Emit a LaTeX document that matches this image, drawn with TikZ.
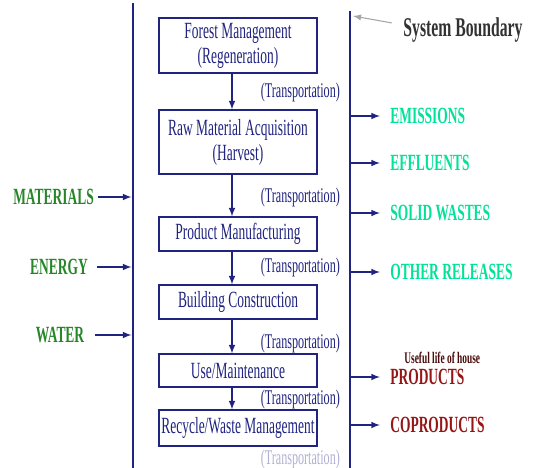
\documentclass[tikz,border=0pt]{standalone}
\usepackage{fontspec}
\setmainfont{Liberation Serif}[FakeStretch=0.58]
\usepackage{tikz}
\usetikzlibrary{arrows}
\usetikzlibrary{positioning}
\definecolor{navy}{RGB}{32, 36, 128}
\definecolor{mint}{RGB}{0, 226, 152}
\definecolor{leaf}{RGB}{38, 134, 40}
\definecolor{maroon}{RGB}{150, 22, 22}
\definecolor{slate}{RGB}{50, 50, 50}

\tikzset{
    stage/.style    = {draw=navy, line width=0.6pt, text=navy, align=center, minimum width=3.16cm,
                       inner xsep=1pt, inner ysep=0pt, font=\fontsize{13.2}{14.2}\selectfont},
    haul/.style     = {text=navy, anchor=east, inner sep=1pt, font=\fontsize{11.9}{13}\selectfont},
    output/.style   = {anchor=west, inner sep=0pt, font=\fontsize{13.2}{14}\selectfont\bfseries},
    input/.style    = {inner sep=0pt, text=leaf, font=\fontsize{13.2}{14}\selectfont\bfseries},
    flow/.style     = {navy, line width=0.7pt, -latex},
}

\begin{document}
\begin{tikzpicture}
            % Frame to ensure alignment:
            \useasboundingbox[fill=white] (0.00, 0.00) rectangle (10.86, -9.36);
            \draw[navy, line width=0.85pt]  (2.66, -0.06) -- (2.66, -9.36);
            \draw[navy, line width=0.85pt]  (7.00, -0.22) -- (7.00, -9.36);

            % Life cycle stages:
            \node[stage, minimum height=1.10cm] (forest)  at (4.76, -0.91) {Forest Management\\(Regeneration)};
            \node[stage, minimum height=1.28cm] (harvest) at (4.76, -2.84) {Raw Material Acquisition\\(Harvest)};
            \node[stage, minimum height=0.68cm] (manuf)   at (4.76, -4.68) {Product Manufacturing};
            \node[stage, minimum height=0.68cm] (build)   at (4.76, -6.04) {Building Construction};
            \node[stage, minimum height=0.66cm] (usage)   at (4.76, -7.41) {Use/Maintenance};
            \node[stage, minimum height=0.72cm] (recycle) at (4.76, -8.56) {Recycle/Waste Management};

            \draw[flow] ([xshift=-0.12cm]forest.south)  -- ([xshift=-0.12cm]harvest.north);
            \draw[flow] ([xshift=-0.12cm]harvest.south) -- ([xshift=-0.12cm]manuf.north);
            \draw[flow] ([xshift=-0.12cm]manuf.south)   -- ([xshift=-0.12cm]build.north);
            \draw[flow] ([xshift=-0.12cm]build.south)   -- ([xshift=-0.12cm]usage.north);
            \draw[flow] ([xshift=-0.12cm]usage.south)   -- ([xshift=-0.12cm]recycle.north);

            \node[haul] (haul1) at (6.84, -1.84) {(Transportation)};
            \node[haul] (haul2) at (6.84, -3.94) {(Transportation)};
            \node[haul] (haul3) at (6.84, -5.34) {(Transportation)};
            \node[haul] (haul4) at (6.84, -6.86) {(Transportation)};
            \node[haul] (haul5) at (6.84, -7.98) {(Transportation)};
            \node[haul, text=navy!35] (haul6) at (6.84, -9.19) {(Transportation)};

            % Inputs:
            \node[input] (materials) at (1.07, -3.94) {MATERIALS};
            \node[input] (energy)    at (1.18, -5.34) {ENERGY};
            \node[input] (water)     at (1.20, -6.70) {WATER};
            \coordinate (in1) at (2.63, -3.94);
            \coordinate (in2) at (2.63, -5.34);
            \coordinate (in3) at (2.63, -6.70);
            \draw[flow, shorten <=2pt] (materials.east) -- (in1);
            \draw[flow, shorten <=5pt] (energy.east)    -- (in2);
            \draw[flow, shorten <=6pt] (water.east)     -- (in3);

            % Outputs:
            \node[output, text=mint]   (emis)  at (7.80, -2.32) {EMISSIONS};
            \node[output, text=mint]   (effl)  at (7.80, -3.26) {EFFLUENTS};
            \node[output, text=mint]   (solid) at (7.80, -4.26) {SOLID WASTES};
            \node[output, text=mint]   (other) at (7.80, -5.44) {OTHER RELEASES};
            \node[output, text=maroon] (prod)  at (7.80, -7.54) {PRODUCTS};
            \node[output, text=maroon] (coprod) at (7.80, -8.50) {COPRODUCTS};
            \node[inner sep=0pt, text=maroon!50!black, font=\fontsize{9.2}{10}\selectfont\bfseries,
                  above right=0.09cm and 0.28cm of prod.north west, anchor=south west] (life) {Useful life of house};

            \coordinate (out1) at (7.00, -2.32);
            \coordinate (out2) at (7.00, -3.26);
            \coordinate (out3) at (7.00, -4.26);
            \coordinate (out4) at (7.00, -5.44);
            \coordinate (out5) at (7.00, -7.54);
            \coordinate (out6) at (7.00, -8.50);
            \draw[flow, shorten >=0.2cm] (out1) -- (emis.west);
            \draw[flow, shorten >=0.2cm] (out2) -- (effl.west);
            \draw[flow, shorten >=0.2cm] (out3) -- (solid.west);
            \draw[flow, shorten >=0.2cm] (out4) -- (other.west);
            \draw[flow, shorten >=0.2cm] (out5) -- (prod.west);
            \draw[flow, shorten >=0.2cm] (out6) -- (coprod.west);

            % Boundary label:
            \node[text=slate, font=\fontsize{15.4}{16}\selectfont\bfseries] (bound) at (9.26, -0.60) {System Boundary};
            \coordinate (edge) at (7.06, -0.32);
            \draw[gray!70, line width=0.6pt, -latex] ([xshift=-3pt, yshift=4pt]bound.west) -- (edge);
\end{tikzpicture}
\end{document}
